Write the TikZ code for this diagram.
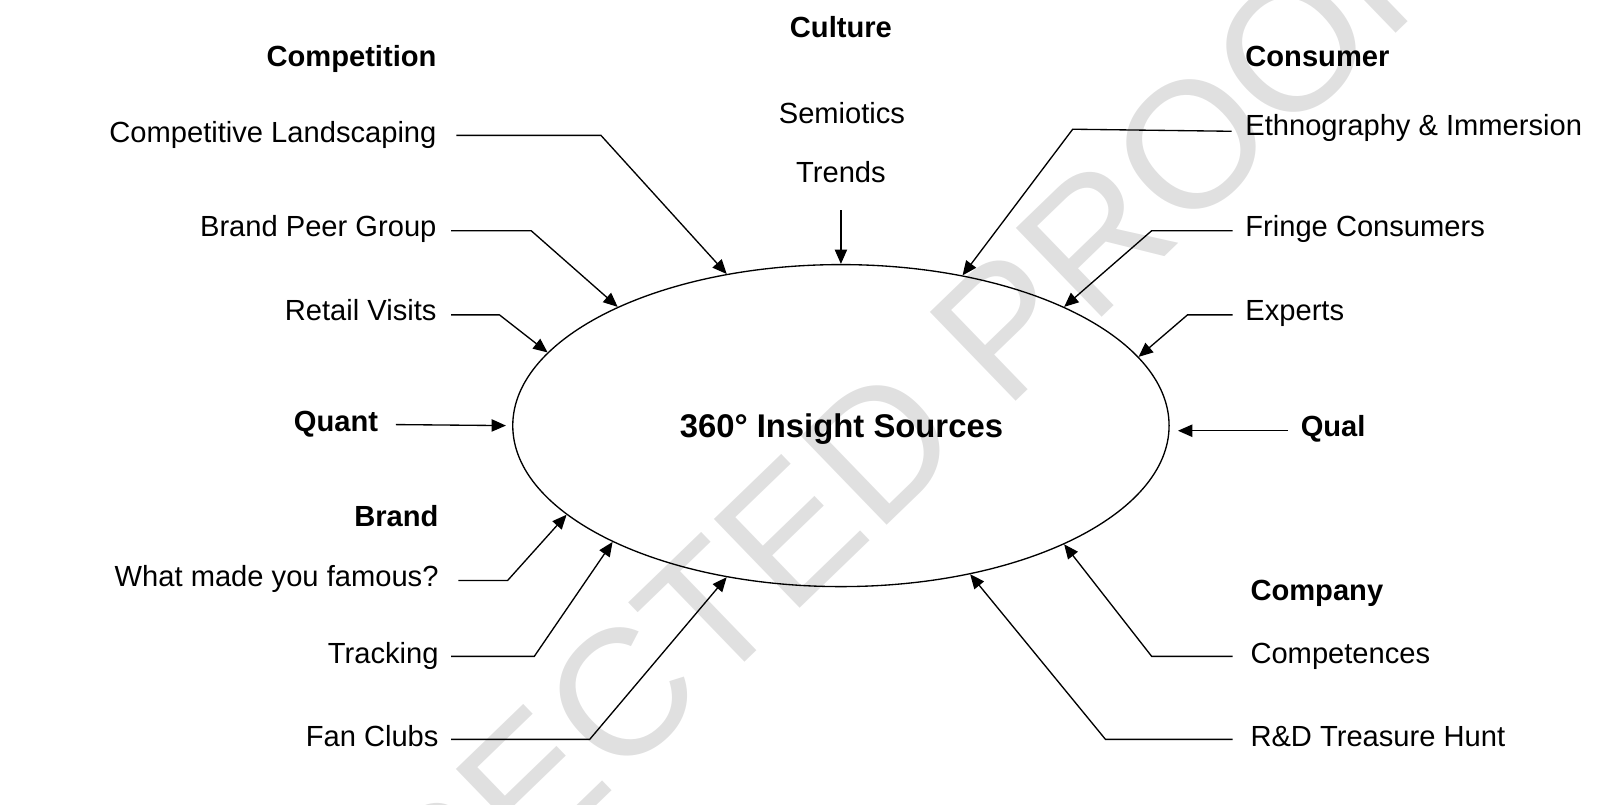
\documentclass[tikz,border=0pt]{standalone}
\usepackage{fontspec}
\setmainfont{Liberation Sans}
\usetikzlibrary{shapes.geometric,arrows.meta}
\begin{document}
\begin{tikzpicture}[x=0.5pt,y=-0.5pt,
  lbl/.style={inner sep=0pt, font=\fontsize{14.2pt}{17pt}\selectfont},
  hdr/.style={inner sep=0pt, font=\fontsize{14.2pt}{17pt}\selectfont\bfseries},
  conn/.style={line width=0.65pt, -{Triangle[length=7pt,width=6pt]}, line join=miter},
  wmark/.style={inner sep=0pt, text=black!12, font=\fontsize{87.5pt}{88pt}\selectfont}]
\useasboundingbox (0,0) rectangle (1568,784);
\clip (0,0) rectangle (1568,784);
% watermark
\node[wmark, rotate=44] (wm) at (746,543) {CORRECTED PROOF};
% central ellipse
\node[ellipse, draw, line width=0.65pt, minimum width=320pt, minimum height=157pt, inner sep=0pt] (E) at (820,415) {};
\node[inner sep=0pt, anchor=base, font=\fontsize{16pt}{19pt}\selectfont\bfseries] (title) at (820.5,426.5) {360° Insight Sources};
% left side
\node[hdr, anchor=base east] (compH) at (426,65) {Competition};
\node[lbl, anchor=base east] (cl) at (426,139) {Competitive Landscaping};
\node[lbl, anchor=base east] (bpg) at (426,231) {Brand Peer Group};
\node[lbl, anchor=base east] (rv) at (426,313) {Retail Visits};
\node[hdr, anchor=base east] (quant) at (369,421) {Quant};
\node[hdr, anchor=base east] (brandH) at (428,513) {Brand};
\node[lbl, anchor=base east] (wmf) at (428,572) {What made you famous?};
\node[lbl, anchor=base east] (tr) at (428,647) {Tracking};
\node[lbl, anchor=base east] (fc) at (428,728) {Fan Clubs};
% top
\node[hdr, anchor=base] (cultH) at (820,37) {Culture};
\node[lbl, anchor=base] (sem) at (821,120) {Semiotics};
\node[lbl, anchor=base] (trends) at (820,178) {Trends};
% right side
\node[hdr, anchor=base west] (consH) at (1214,65) {Consumer};
\node[lbl, anchor=base west] (eth) at (1214,132) {Ethnography \& Immersion};
\node[lbl, anchor=base west] (fr) at (1214,231) {Fringe Consumers};
\node[lbl, anchor=base west] (ex) at (1214,313) {Experts};
\node[hdr, anchor=base west] (qual) at (1268,426) {Qual};
\node[hdr, anchor=base west] (compyH) at (1219,586) {Company};
\node[lbl, anchor=base west] (cmp) at (1219,647) {Competences};
\node[lbl, anchor=base west] (rd) at (1219,728) {R\&D Treasure Hunt};
% connectors
\draw[conn] ([xshift=9.5pt,yshift=3.5pt]cl.base east) -- ++(141,0) -- (E.127.8);
\draw[conn] ([xshift=7pt,yshift=3pt]bpg.base east) -- ++(78,0) -- (E.152.6);
\draw[conn] ([xshift=7pt,yshift=3pt]rv.base east) -- ++(47,0) -- (E.166.7);
\draw[conn] ([xshift=8.5pt,yshift=3.5pt]quant.base east) -- ([xshift=-3pt]E.west);
\draw[conn] ([xshift=9.5pt,yshift=3pt]wmf.base east) -- ++(48,0) -- (E.198);
\draw[conn] ([xshift=6pt,yshift=3.5pt]tr.base east) -- ++(81,0) -- (E.207.7);
\draw[conn] ([xshift=6pt,yshift=3.5pt]fc.base east) -- ++(135,0) -- (E.233.9);
\draw[conn] ([yshift=-13.5pt]trends.base) -- (E.north);
\draw[conn] ([xshift=-6.5pt,yshift=2pt]eth.base west) -- ++(-155,-2) -- (E.51);
\draw[conn] ([xshift=-6pt,yshift=3pt]fr.base west) -- ++(-79,0) -- (E.28);
\draw[conn] ([xshift=-6pt,yshift=3pt]ex.base west) -- ++(-44,0) -- (E.13.8);
\draw[conn] ([xshift=-6pt,yshift=3pt]qual.base west) -- ([xshift=4pt,yshift=-2.5pt]E.east);
\draw[conn] ([xshift=-8.5pt,yshift=3.5pt]cmp.base west) -- ++(-79,0) -- (E.332.2);
\draw[conn] ([xshift=-8.5pt,yshift=3.5pt]rd.base west) -- ++(-124,0) -- (E.311.9);
\end{tikzpicture}
\end{document}
